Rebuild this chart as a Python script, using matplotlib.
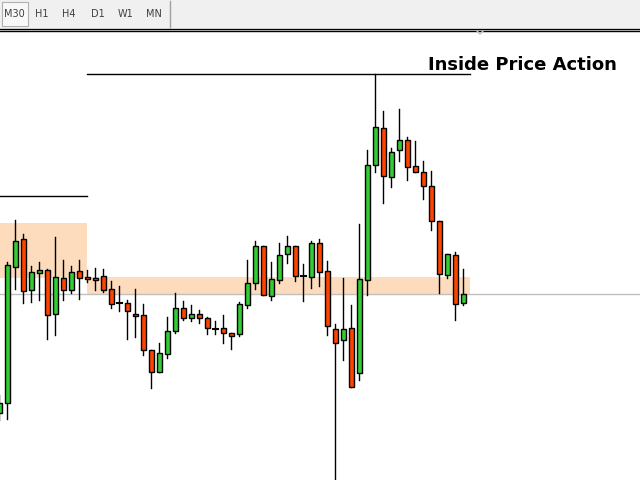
import matplotlib
matplotlib.use("Agg")
import matplotlib.pyplot as plt
from matplotlib.patches import Rectangle

# candle data (screen-pixel price scale, inverted axis)
bar_x = [-1,7,15,23,31,39,47,55,63,71,79,87,95,103,111,119,127,135,143,151,159,167,175,183,191,199,207,215,223,231,
         239,247,255,263,271,279,287,295,303,311,319,327,335,343,351,359,367,375,383,391,399,407,415,423,431,439,447,455,463]
opens = [413,403,267,239,290,273,270,314,278,290,271,277,280,276,289,303,303,314,315,350,372,354,331,308,318,314,318,329,328,333,
         334,305,283,246,296,280,254,246,276,277,243,271,329,340,328,373,280,165,128,177,150,140,166,172,186,221,275,255,303]
closes = [403,265,241,291,272,270,315,277,290,272,278,279,278,290,304,303,311,316,350,372,353,331,308,318,314,318,328,329,333,336,
          304,283,246,295,279,255,246,276,276,243,272,326,343,329,387,279,165,127,176,152,140,167,172,186,221,274,254,304,294]
highs = [395,262,220,234,266,262,269,237,260,266,260,270,268,269,281,286,300,289,304,350,343,317,293,301,305,310,317,321,315,333,
         302,260,241,246,262,243,236,246,264,241,239,261,324,278,305,224,150,74,111,148,109,137,141,161,171,221,254,252,269]
lows = [420,419,289,303,302,300,339,335,300,293,299,282,290,292,308,311,339,337,355,388,372,358,333,320,321,323,334,334,343,349,
        336,308,289,295,300,283,263,281,301,288,286,335,480,360,387,380,295,172,203,187,161,180,172,199,230,293,278,320,305]
title = "Inside Price Action"
timeframes = ["M30", "H1", "H4", "D1", "W1", "MN"]

fig = plt.figure(figsize=(6.4, 4.8), dpi=100)
ax = fig.add_axes([0, 0, 1, 1])
ax.set_xlim(0, 640)
ax.set_ylim(480, 0)
ax.axis("off")

# zones
ax.add_patch(Rectangle((0, 223), 87, 55, color="#fcdcbc", zorder=0, lw=0))
ax.add_patch(Rectangle((87, 277), 383, 17, color="#fcdcbc", zorder=0, lw=0))
ax.plot([0, 640], [294, 294], color="#c0c0c0", lw=1, zorder=1)
ax.plot([87, 470], [74, 74], color="black", lw=1, zorder=1)
ax.plot([0, 87], [196, 196], color="black", lw=1, zorder=1)

for x, o, c, h, l in zip(bar_x, opens, closes, highs, lows):
    up = c < o
    ax.plot([x, x], [h, l], color="black", lw=1, zorder=2)
    top, bot = min(o, c), max(o, c)
    if bot - top < 1.5:
        ax.plot([x - 2.5, x + 2.5], [top, top], color="black", lw=1.5, zorder=3)
    else:
        ax.add_patch(Rectangle((x - 2.5, top), 5, bot - top, facecolor="#33cc33" if up else "#ff4400",
                               edgecolor="black", lw=1, zorder=3))

ax.text(617, 65, title, ha="right", va="center", fontsize=13, fontweight="bold", zorder=5)

# toolbar
ax.add_patch(Rectangle((0, 0), 640, 28, color="#f0f0f0", zorder=4, lw=0))
ax.add_patch(Rectangle((2, 2), 26, 24, facecolor="#f8f8f8", edgecolor="#b0b0b0", lw=0.8, zorder=5))
ax.plot([170, 170], [1, 27], color="#a0a0a0", lw=1, zorder=5)
ax.plot([0, 640], [29, 29], color="black", lw=1, zorder=5)
ax.plot([0, 640], [31, 31], color="black", lw=1, zorder=5)
ax.plot([477, 480, 483], [31, 34, 31], color="#c0c0c0", lw=1, zorder=5)
for lab, tx in zip(timeframes, [14, 42, 69, 98, 126, 154]):
    ax.text(tx, 14, lab, ha="center", va="center", fontsize=7, color="#404040", zorder=6)

fig.savefig("out.png", dpi=100)
